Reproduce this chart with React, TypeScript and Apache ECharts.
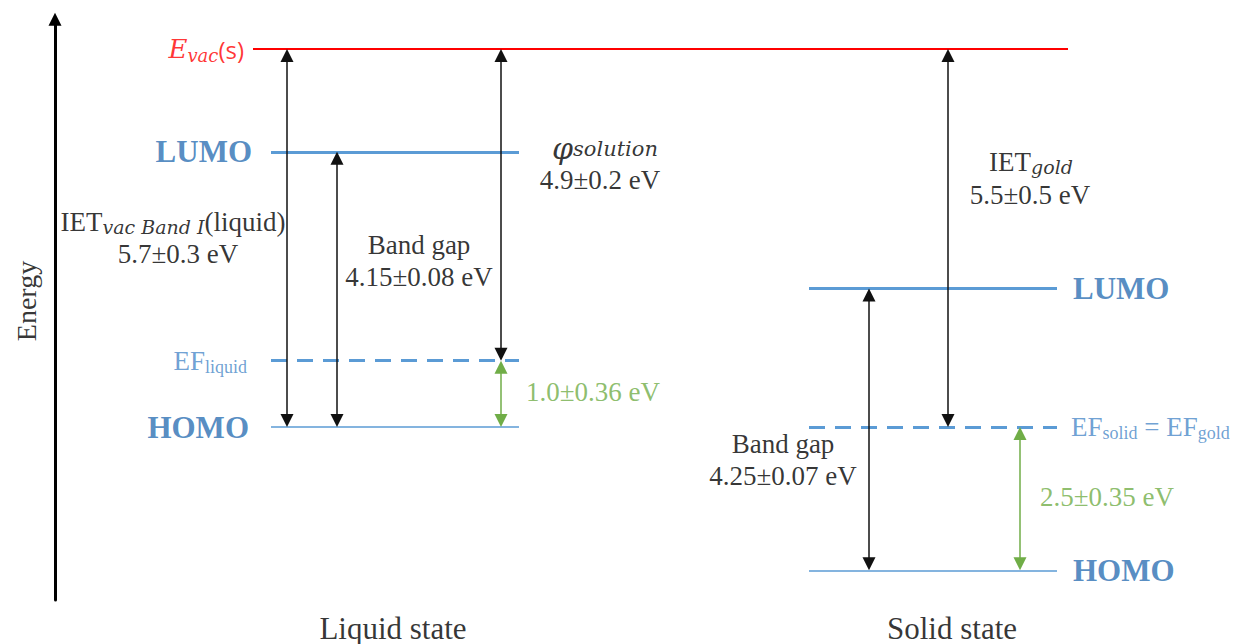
import React, { useEffect, useRef } from 'react';
import * as echarts from 'echarts';

// ---------- data (energies in eV relative to the vacuum level, as drawn) ----------
const vacuumLevel = 0;
const levelNames = ['LUMO', 'EF', 'HOMO'];
const liquidLevels = [-1.55, -4.7, -5.7]; // LUMO, EF, HOMO
const solidLevels = [-3.61, -5.7, -7.86]; // LUMO, EF, HOMO

const liquidValues = ['5.7±0.3 eV', '4.15±0.08 eV', '4.9±0.2 eV', '1.0±0.36 eV'];
const solidValues = ['5.5±0.5 eV', '4.25±0.07 eV', '2.5±0.35 eV'];
const gapTitle = 'Band gap';
const stateLabels = ['Liquid state', 'Solid state'];
const axisTitle = 'Energy';

// ---------- layout ----------
const W = 1236;
const H = 644;
const PX_PER_EV = 66.32;
const EVAC_Y = 49;
const Y_MAX = 0.45;
const Y_MIN = -8.31;
const AXIS_X = 55;
const gridTop = EVAC_Y - Y_MAX * PX_PER_EV;
const gridHeight = (Y_MAX - Y_MIN) * PX_PER_EV;
const py = (px: number) => -(px - EVAC_Y) / PX_PER_EV;

const HEAD = 13;
const inset = HEAD / 2 / PX_PER_EV;

const SERIF = "'Liberation Serif', 'Times New Roman', serif";
const MATH = "'DejaVu Serif', serif";
const BLUE_LINE = '#5B9BD5';
const BLUE_TEXT = '#2B6FB3';
const BLUE_EF = '#4A89C8';
const GREEN = '#70AD47';
const RED = '#FF0000';

const liquidSpan = [271, 519];
const solidSpan = [809, 1057];
const vacSpan = [253, 1068];

function levelLine(span: number[], y: number, kind: string) {
  const styles: Record<string, any> = {
    LUMO: { color: BLUE_LINE, width: 3, type: 'solid' },
    EF: { color: BLUE_LINE, width: 3, type: [16, 10] },
    HOMO: { color: BLUE_LINE, width: 1.5, type: 'solid' },
  };
  return { coords: [[span[0], y], [span[1], y]], lineStyle: { ...styles[kind], opacity: 1 } };
}

function arrow(x: number, top: number, bottom: number) {
  return { coords: [[x, top - inset], [x, bottom + inset]] };
}

const levelData: any[] = [
  { coords: [[vacSpan[0], vacuumLevel], [vacSpan[1], vacuumLevel]], lineStyle: { color: RED, width: 2, opacity: 1 } },
  ...levelNames.map((n, i) => levelLine(liquidSpan, liquidLevels[i], n)),
  ...levelNames.map((n, i) => levelLine(solidSpan, solidLevels[i], n)),
];

const blackArrows = [
  arrow(287, vacuumLevel, liquidLevels[2]),
  arrow(337, liquidLevels[0], liquidLevels[2]),
  arrow(501, vacuumLevel, liquidLevels[1]),
  arrow(869, solidLevels[0], solidLevels[2]),
  arrow(948, vacuumLevel, solidLevels[1]),
];
const greenArrows = [
  arrow(501, liquidLevels[1], liquidLevels[2]),
  arrow(1020, solidLevels[1], solidLevels[2]),
];

const labels: any[] = [
  // level labels, left
  { name: '{ev|E}{evs|vac}{evp|(s)}', value: [244, vacuumLevel], label: { position: 'left' } },
  { name: `{lvl|${levelNames[0]}}`, value: [252, liquidLevels[0]], label: { position: 'left', offset: [0, 2] } },
  { name: `{ef|${levelNames[1]}}{efs|liquid}`, value: [247, liquidLevels[1]], label: { position: 'left', offset: [0, 1] } },
  { name: `{lvl|${levelNames[2]}}`, value: [249, liquidLevels[2]], label: { position: 'left' } },
  // level labels, right
  { name: `{lvl|${levelNames[0]}}`, value: [1073, solidLevels[0]], label: { position: 'right', offset: [0, -4] } },
  { name: `{ef|${levelNames[1]}}{efs|solid}{ef| = ${levelNames[1]}}{efs|gold}`, value: [1071, solidLevels[1]], label: { position: 'right', offset: [0, -7] } },
  { name: `{lvl|${levelNames[2]}}`, value: [1073, solidLevels[2]], label: { position: 'right', offset: [0, 3] } },
  // liquid annotations
  { name: '{t|IET}{ti|vac Band I}{t|(liquid)}', value: [173, py(222)] },
  { name: `{t|${liquidValues[0]}}`, value: [178, py(254)] },
  { name: `{t|${gapTitle}}`, value: [419, py(245)] },
  { name: `{t|${liquidValues[1]}}`, value: [419, py(277)] },
  { name: '{phi|φ}{phis|solution}', value: [605, py(148)] },
  { name: `{t|${liquidValues[2]}}`, value: [600, py(180)] },
  { name: `{g|${liquidValues[3]}}`, value: [526, py(392)], label: { position: 'right' } },
  // solid annotations
  { name: '{t|IET}{ti|gold}', value: [1031, py(162)] },
  { name: `{t|${solidValues[0]}}`, value: [1030, py(195)] },
  { name: `{t|${gapTitle}}`, value: [783, py(444)] },
  { name: `{t|${solidValues[1]}}`, value: [783, py(476)] },
  { name: `{g|${solidValues[2]}}`, value: [1040, py(497)], label: { position: 'right' } },
  // states
  { name: `{st|${stateLabels[0]}}`, value: [393, py(628)] },
  { name: `{st|${stateLabels[1]}}`, value: [952, py(628)] },
  // axis title
  { name: `{en|${axisTitle}}`, value: [26, py(301)], label: { rotate: 90 } },
];

const rich: Record<string, any> = {
  t: { fontFamily: SERIF, fontSize: 27, lineHeight: 28, color: '#000' },
  ti: { fontFamily: MATH, fontStyle: 'italic', fontSize: 19, lineHeight: 14, verticalAlign: 'bottom', color: '#000' },
  lvl: { fontFamily: SERIF, fontWeight: 'bold', fontSize: 31, lineHeight: 32, color: BLUE_TEXT },
  ef: { fontFamily: SERIF, fontSize: 27, lineHeight: 30, color: BLUE_EF },
  efs: { fontFamily: SERIF, fontSize: 18, lineHeight: 20, verticalAlign: 'bottom', color: BLUE_EF },
  g: { fontFamily: SERIF, fontSize: 27, lineHeight: 30, color: GREEN },
  ev: { fontFamily: MATH, fontStyle: 'italic', fontSize: 26, lineHeight: 30, color: RED },
  evs: { fontFamily: MATH, fontStyle: 'italic', fontSize: 18, lineHeight: 16, verticalAlign: 'bottom', color: RED },
  evp: { fontFamily: "'Open Sans', sans-serif", fontSize: 24, lineHeight: 30, color: RED },
  phi: { fontFamily: MATH, fontStyle: 'italic', fontSize: 30, lineHeight: 22, color: '#000' },
  phis: { fontFamily: MATH, fontStyle: 'italic', fontSize: 21, lineHeight: 16, verticalAlign: 'bottom', color: '#000' },
  st: { fontFamily: SERIF, fontSize: 31, lineHeight: 34, color: '#000' },
  en: { fontFamily: SERIF, fontSize: 28, lineHeight: 30, color: '#000' },
};

const option: any = {
  animation: false,
  backgroundColor: '#ffffff',
  grid: { left: AXIS_X, right: 0, top: gridTop, height: gridHeight, containLabel: false },
  xAxis: { type: 'value', min: AXIS_X, max: W, show: false },
  yAxis: {
    type: 'value',
    min: Y_MIN,
    max: Y_MAX,
    axisLine: {
      show: true,
      onZero: false,
      symbol: ['none', 'triangle'],
      symbolSize: [13, 13],
      lineStyle: { color: '#000', width: 3 },
    },
    axisTick: { show: false },
    axisLabel: { show: false },
    splitLine: { show: false },
  },
  series: [
    {
      type: 'lines',
      coordinateSystem: 'cartesian2d',
      silent: true,
      symbol: 'none',
      lineStyle: { opacity: 1, curveness: 0 },
      data: levelData,
      z: 2,
    },
    {
      type: 'lines',
      coordinateSystem: 'cartesian2d',
      silent: true,
      symbol: ['triangle', 'triangle'],
      symbolSize: HEAD,
      lineStyle: { color: '#111111', width: 1.5, opacity: 1, curveness: 0 },
      data: blackArrows,
      z: 3,
    },
    {
      type: 'lines',
      coordinateSystem: 'cartesian2d',
      silent: true,
      symbol: ['triangle', 'triangle'],
      symbolSize: HEAD,
      lineStyle: { color: GREEN, width: 1.5, opacity: 1, curveness: 0 },
      data: greenArrows,
      z: 3,
    },
    {
      type: 'scatter',
      silent: true,
      clip: false,
      symbolSize: 0,
      itemStyle: { color: 'rgba(0,0,0,0)' },
      label: {
        show: true,
        position: 'inside',
        distance: 0,
        formatter: '{b}',
        rich,
      },
      labelLayout: { hideOverlap: false },
      data: labels,
      z: 4,
    },
  ],
};

export default function App() {
  const ref = useRef<HTMLDivElement>(null);
  useEffect(() => {
    const chart = echarts.init(ref.current!, null, { renderer: 'svg' });
    chart.setOption(option);
    return () => chart.dispose();
  }, []);
  return (
    <div
      ref={ref}
      style={{ position: 'fixed', left: 0, top: 0, width: W, height: H, background: '#fff' }}
    />
  );
}
